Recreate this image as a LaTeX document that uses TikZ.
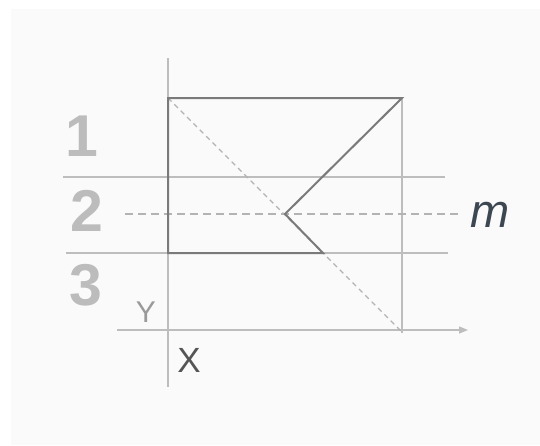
\documentclass[tikz,border=0pt]{standalone}
\usepackage{fontspec}
\setmainfont{Liberation Sans}
\usetikzlibrary{arrows.meta}
\definecolor{bgpanel}{HTML}{FAFAFA}
\definecolor{thinline}{HTML}{BDBDBD}
\definecolor{dashcol}{HTML}{B3B3B3}
\definecolor{darkline}{HTML}{7A7A7A}
\definecolor{numgray}{HTML}{BCBCBC}
\definecolor{mcol}{HTML}{3D4752}
\definecolor{xcol}{HTML}{555555}
\definecolor{ycol}{HTML}{9A9A9A}
\tikzset{
  thin line/.style={draw=thinline, line width=1.4pt},
  outline/.style={draw=darkline, line width=2pt, line join=miter},
  mdash/.style={draw=dashcol, line width=2.2pt, dash pattern=on 8pt off 5pt},
  diagdash/.style={draw=dashcol, line width=1.1pt, dash pattern=on 5pt off 4pt},
  numlabel/.style={font=\fontsize{59}{59}\selectfont\bfseries, text=numgray, inner sep=0pt, anchor=base},
}
\begin{document}
\begin{tikzpicture}[x=1pt, y=-1pt]
\useasboundingbox (0,0) rectangle (540,445);
\fill[white] (0,0) rectangle (540,445);
\fill[bgpanel] (11,9) rectangle (540,445);
% coordinates
\coordinate (vtop) at (168,58);
\coordinate (vbot) at (168,387);
\coordinate (tl) at (168,98);
\coordinate (tr) at (402,98);
\coordinate (apex) at (285,214);
\coordinate (vb) at (323,253);
\coordinate (bl) at (168,253);
\coordinate (rbot) at (402,333);
\coordinate (dend) at (403,333);
\coordinate (h1a) at (63,177);
\coordinate (h1b) at (445,177);
\coordinate (h2a) at (66,253);
\coordinate (h2b) at (448,253);
\coordinate (axa) at (117,330);
\coordinate (axb) at (468,330);
\coordinate (ma) at (125,214);
\coordinate (mb) at (458,214);
% thin lines
\draw[thin line] (vtop) -- (vbot);
\draw[thin line] (tr) -- (rbot);
\draw[thin line] (h1a) -- (h1b);
\draw[thin line] (h2a) -- (h2b);
\draw[thin line, -{Triangle[length=9pt, width=7pt]}] (axa) -- (axb);
% dashed
\draw[mdash] (ma) -- (mb);
\draw[diagdash] (tl) -- (dend);
% outline shape
\draw[outline] (tl) -- (tr) -- (apex) -- (vb) -- (bl) -- cycle;
% labels
\node[numlabel] (n1) at (82,156) {1};
\node[numlabel] (n2) at (87,231) {2};
\node[numlabel] (n3) at (86,305) {3};
\node[font=\fontsize{47}{47}\selectfont\itshape, text=mcol, inner sep=0pt, anchor=base] (m) at (490,227) {m};
\node[font=\fontsize{35}{35}\selectfont, text=xcol, inner sep=0pt, anchor=base] (X) at (189,372) {X};
\node[font=\fontsize{30}{30}\selectfont, text=ycol, inner sep=0pt, anchor=base] (Y) at (146,322) {Y};
\end{tikzpicture}
\end{document}
